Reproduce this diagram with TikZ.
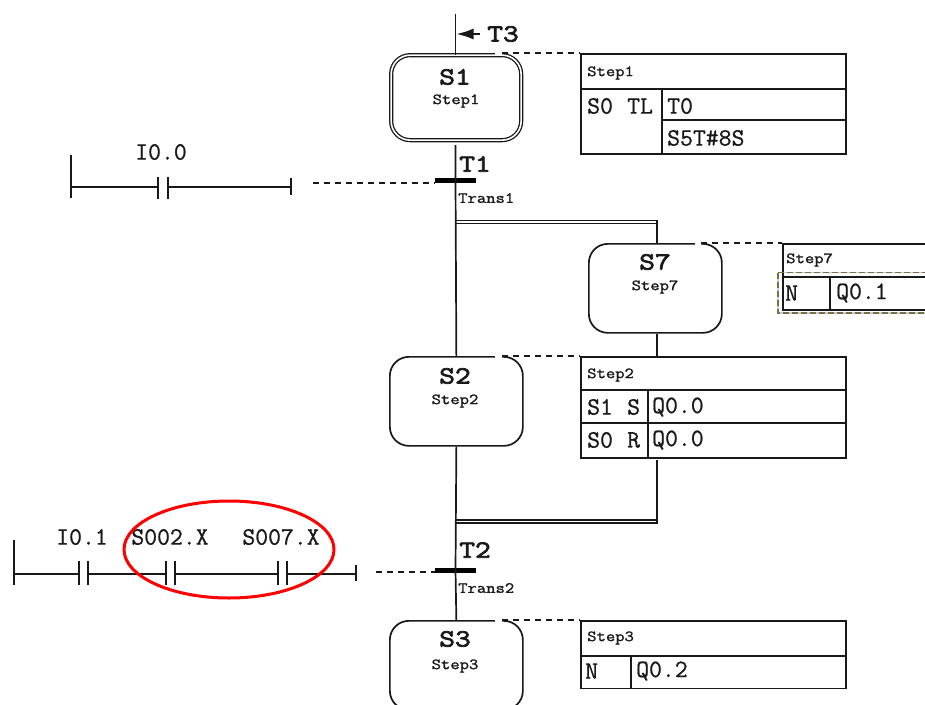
\documentclass[tikz,border=0pt]{standalone}
\usepackage{fontspec}
\usetikzlibrary{arrows.meta}
\newfontfamily\regf[FakeBold=0.8]{Latin Modern Mono}
\newfontfamily\boldf[FakeStretch=1.24,FakeBold=3]{Latin Modern Mono}
\newfontfamily\tinyf[FakeStretch=1.17,FakeBold=1.5]{Latin Modern Mono}
\definecolor{ink}{RGB}{25,25,25}
\definecolor{selA}{RGB}{120,115,60}
\definecolor{selB}{RGB}{200,200,240}
\tikzset{
  ln/.style={draw=ink,line width=1.7pt},
  dsh/.style={draw=ink,line width=1.3pt,dash pattern=on 6pt off 5pt},
  gapline/.style={draw=white,line width=3pt},
  stepbox/.style={ln,rounded corners=19pt,minimum width=133pt,minimum height=89pt,inner sep=0pt,anchor=north west},
  actbox/.style={ln,minimum width=265pt,inner sep=0pt,anchor=north west},
  txt/.style={font=\regf\fontsize{25}{25}\selectfont,text=ink,inner sep=0pt,anchor=west},
  ctr/.style={txt,anchor=center},
  big/.style={font=\boldf\fontsize{24.6}{25}\selectfont,text=ink,inner sep=0pt,anchor=center},
  tiny/.style={font=\tinyf\fontsize{15.5}{16}\selectfont,text=ink,inner sep=0pt,anchor=center},
  tinyw/.style={tiny,anchor=west},
  bar/.style={fill=black,minimum width=41pt,minimum height=5pt,inner sep=0pt},
}
\begin{document}
\begin{tikzpicture}[x=1pt,y=-1pt]
\useasboundingbox[fill=white] (0,0) rectangle (925,704);
% coordinates
\coordinate (top) at (455.5,14);
\coordinate (t3tip) at (456.5,34);
\coordinate (t3end) at (480,34);
% step nodes
\node[stepbox,double=white,double distance=1.6pt,line width=1.3pt,minimum width=130pt,minimum height=85pt] (s1) at (390.5,54.5) {};
\node[stepbox] (s7) at (588,243) {};
\node[stepbox] (s2) at (389,356) {};
\begin{scope}
\clip (0,0) rectangle (925,704);
\node[stepbox] (s3) at (389,620) {};
\end{scope}
% gaps in the step outlines before the dashed links
\draw[gapline] (495,53) -- (502,53);
\draw[gapline] (695,243) -- (701,243);
\draw[gapline] (495,356) -- (502,356);
\draw[gapline] (495,620) -- (502,620);
% step labels
\node[big] (s1a) at (455,77) {S1};
\node[tiny] (s1b) at (456,101) {Step1};
\node[big] (s7a) at (655,262) {S7};
\node[tiny] (s7b) at (655,287) {Step7};
\node[big] (s2a) at (455,376) {S2};
\node[tiny] (s2b) at (455,401) {Step2};
\node[big] (s3a) at (455,639) {S3};
\node[tiny] (s3b) at (455,666) {Step3};
% transitions
\node[bar] (b1) at (455.5,180.5) {};
\node[bar] (b2) at (455.5,570) {};
\node[big,anchor=center] (t1) at (475,164) {T1};
\node[big] (t2) at (475,550) {T2};
\node[big] (t3) at (503,34) {T3};
\node[tinyw] (tr1) at (458,198) {Trans1};
\node[tinyw] (tr2) at (458,588) {Trans2};
% main line
\draw[ln] (top) -- (top |- s1.north);
\coordinate (s1out) at (455.5,145);
\draw[ln] (s1out) -- (b1.center) -- (s2.north);
\draw[ln] (s2.south) -- (b2.center) -- (s3.north);
\draw[draw=ink,line width=1.7pt,-{Latex[length=17pt,width=11pt]}] (t3end) -- (t3tip);
% action boxes
\node[actbox,minimum height=100pt] (a1) at (580,53) {};
\node[actbox,minimum height=101pt] (a2) at (580,356) {};
\node[actbox,minimum height=67.5pt] (a3) at (580,620) {};
\node[ln,inner sep=0pt,minimum width=165pt,minimum height=66pt,anchor=north west] (a7) at (782,243) {};
% dashed links
\coordinate (d1s) at (502,53);
\coordinate (d7s) at (701,243);
\coordinate (d2s) at (502,356);
\coordinate (d3s) at (502,620);
\draw[dsh] (d1s) -- (a1.north west);
\draw[dsh] (d7s) -- (a7.north west);
\draw[dsh] (d2s) -- (a2.north west);
\draw[dsh] (d3s) -- (a3.north west);
\coordinate (lad1) at (313,183);
\coordinate (lad2) at (376,572);
\draw[dsh] (lad1) -- (lad1 -| b1.west);
\draw[dsh] (lad2) -- (lad2 -| b2.west);
% parallel branch
\coordinate (d1a) at (455.5,220.5);
\coordinate (d1b) at (657,220.5);
\coordinate (d1c) at (455.5,223.5);
\coordinate (d1d) at (657,223.5);
\draw[ln,line width=1.4pt] (d1a) -- (d1b) -- (d1d) -- (d1c);
\draw[ln] (d1d) -- (s7.north -| d1d);
\draw[ln] (s7.south -| d1d) -- (a2.north -| d1d);
\coordinate (d2a) at (455.5,520);
\coordinate (d2b) at (657,520);
\coordinate (d2c) at (455.5,523);
\coordinate (d2d) at (657,523);
\coordinate (d2t) at (657,460);
\draw[ln] (d2t) -- (d2b);
\draw[ln,line width=1.4pt] (d2a) -- (d2b) -- (d2d) -- (d2c);
% action box 1 contents
\draw[ln] (580,89) -- (845,89);
\draw[ln] (662,89) -- (662,153);
\draw[ln] (662,120) -- (845,120);
\node[tinyw] (a1t) at (587,73) {Step1};
\node[txt] (a1q) at (587,106) {S0};
\node[txt] (a1r) at (627,106) {TL};
\node[txt] (a1c) at (667,106) {T0};
\node[txt] (a1d) at (667,138) {S5T\#8S};
% action box 2 contents
\draw[ln] (580,390) -- (845,390);
\draw[ln] (580,423) -- (845,423);
\draw[ln] (648,390) -- (648,457);
\node[tinyw] (a2t) at (587,375) {Step2};
\node[txt] (a2q) at (587,407) {S1};
\node[txt] (a2r) at (627,407) {S};
\node[txt] (a2c) at (652,407) {Q0.0};
\node[txt] (a2s) at (587,440) {S0};
\node[txt] (a2u) at (627,440) {R};
\node[txt] (a2d) at (652,440) {Q0.0};
% action box 3 contents
\draw[ln] (580,656) -- (845,656);
\draw[ln] (631,656) -- (631,687.5);
\node[tinyw] (a3t) at (587,638) {Step3};
\node[txt] (a3q) at (585,671) {N};
\node[txt] (a3c) at (636,671) {Q0.2};
% action box 7 contents
\draw[ln] (782,277) -- (925,277);
\draw[ln] (830,277) -- (830,309);
\node[tinyw] (a7t) at (786,260) {Step7};
\node[txt] (a7q) at (785,293) {N};
\node[txt] (a7c) at (836,293) {Q0.1};
\draw[selB,line width=1.7pt] (778,272.5) -- (925,272.5) (778,272.5) -- (778,313) -- (925,313);
\draw[selA,line width=1.7pt,dash pattern=on 6pt off 3pt] (778,272.5) -- (925,272.5) (778,272.5) -- (778,313) -- (925,313);
% ladder 1
\node[ctr] (l1t) at (161,152) {I0.0};
\draw[ln] (71,155) -- (71,198);
\draw[ln] (71,187) -- (158,187);
\draw[ln] (158,177) -- (158,199);
\draw[ln] (168,177) -- (168,199);
\draw[ln] (168,187) -- (291,187);
\draw[ln] (291,178) -- (291,195);
% ladder 2
\node[ctr] (l2a) at (82,537) {I0.1};
\node[ctr] (l2b) at (170,537) {S002.X};
\node[ctr] (l2c) at (281,537) {S007.X};
\draw[ln] (14,540) -- (14,585);
\draw[ln] (14,574) -- (79,574);
\draw[ln] (79,561) -- (79,585);
\draw[ln] (88,561) -- (88,585);
\draw[ln] (88,574) -- (166,574);
\draw[ln] (166,561) -- (166,585);
\draw[ln] (175,561) -- (175,585);
\draw[ln] (175,574) -- (278,574);
\draw[ln] (278,561) -- (278,585);
\draw[ln] (287,561) -- (287,585);
\draw[ln] (287,574) -- (356,574);
\draw[ln] (356,565) -- (356,581);
% red ellipse
\draw[red,line width=3pt] (229,549.5) ellipse (105pt and 48.5pt);
\end{tikzpicture}
\end{document}
